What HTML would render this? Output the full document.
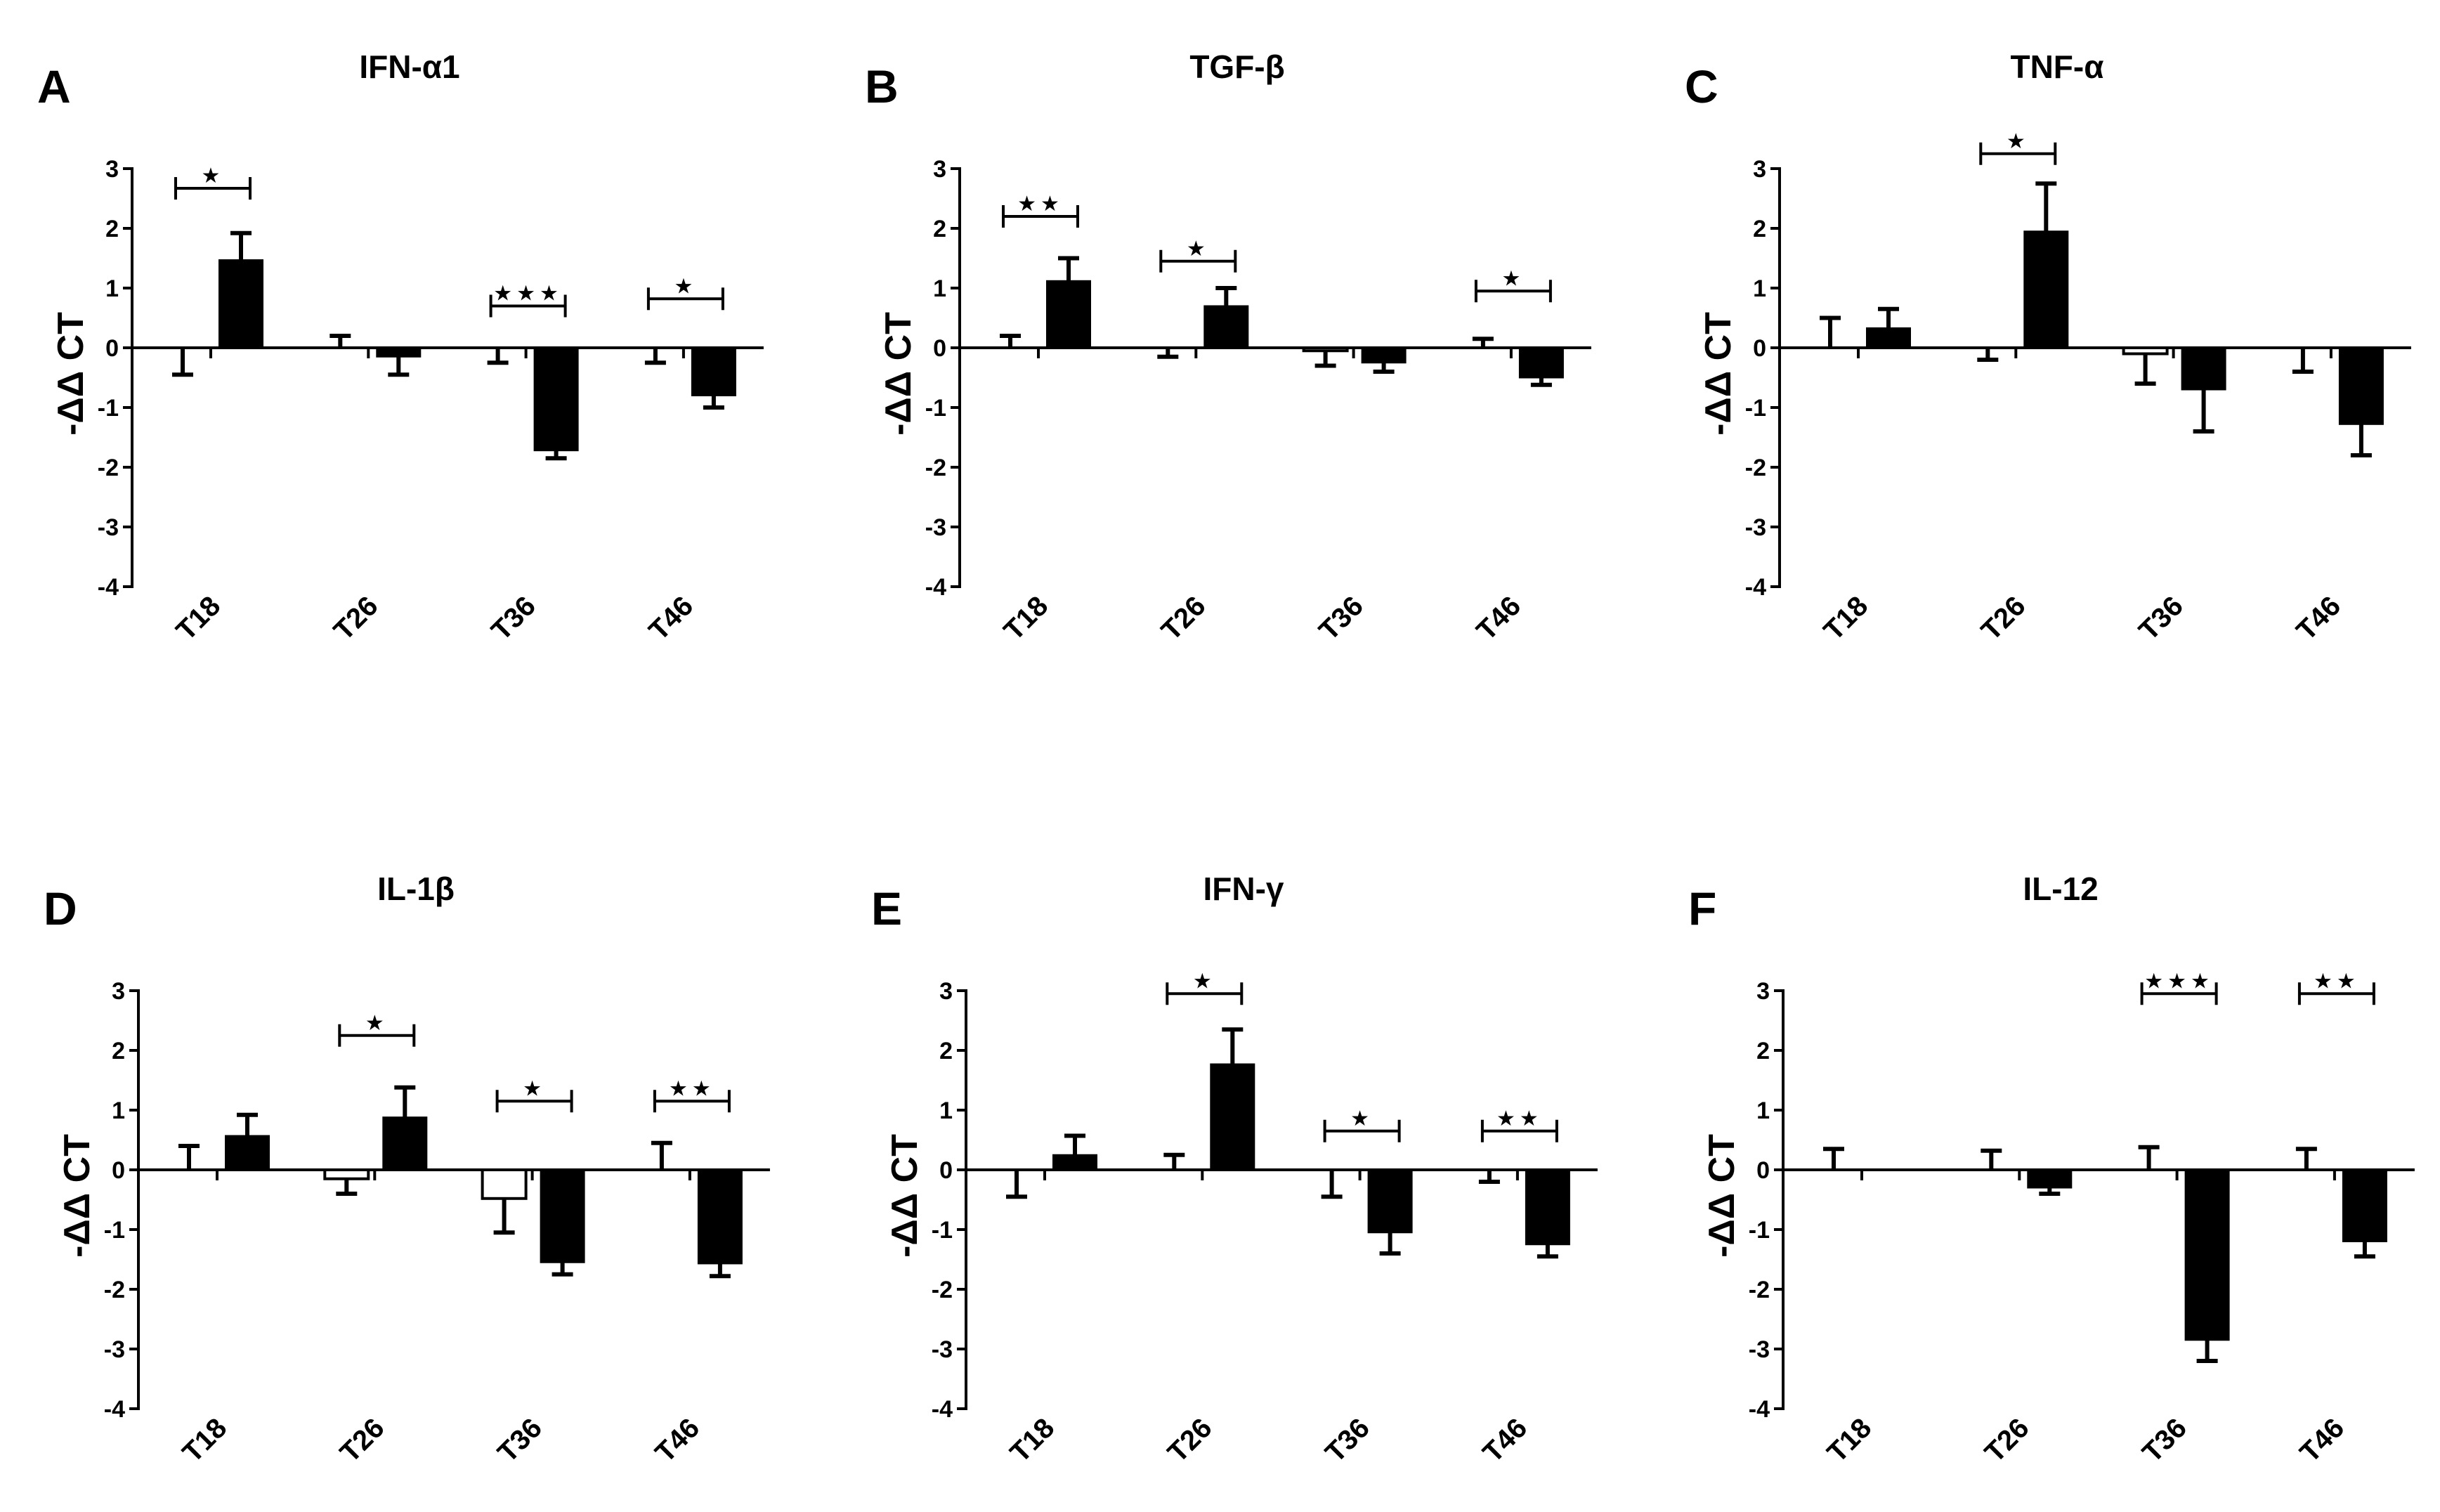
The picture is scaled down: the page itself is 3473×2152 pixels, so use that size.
<!DOCTYPE html>
<html><head><meta charset="utf-8"><style>
html,body{margin:0;padding:0;background:#fff;}
svg{display:block;font-family:"Liberation Sans",sans-serif;}
</style></head><body>
<svg id="fig" width="3473" height="2152" viewBox="0 0 3473 2152" xmlns="http://www.w3.org/2000/svg"></svg>
<script>
const categories = ["T18","T26","T36","T46"];
const panelTitles = ["IFN-\u03b11","TGF-\u03b2","TNF-\u03b1","IL-1\u03b2","IFN-\u03b3","IL-12"];
const panelLetters = ["A","B","C","D","E","F"];
const yTicks = [3,2,1,0,-1,-2,-3,-4];
// white (control) means and error tips
const whiteA = [0,0,0,0];        const whiteTipA = [-0.45,0.2,-0.25,-0.25];
const blackA = [1.47,-0.15,-1.72,-0.8]; const blackTipA = [1.92,-0.45,-1.85,-1.0];
const whiteB = [0,0,-0.05,0];    const whiteTipB = [0.2,-0.15,-0.3,0.15];
const blackB = [1.12,0.7,-0.25,-0.5]; const blackTipB = [1.5,1.0,-0.4,-0.62];
const whiteC = [0,0,-0.1,0];     const whiteTipC = [0.5,-0.2,-0.6,-0.4];
const blackC = [0.33,1.95,-0.7,-1.28]; const blackTipC = [0.65,2.75,-1.4,-1.8];
const whiteD = [0,-0.15,-0.48,0]; const whiteTipD = [0.4,-0.4,-1.05,0.45];
const blackD = [0.57,0.88,-1.55,-1.57]; const blackTipD = [0.92,1.38,-1.75,-1.78];
const whiteE = [0,0,0,0];        const whiteTipE = [-0.45,0.25,-0.45,-0.2];
const blackE = [0.25,1.77,-1.05,-1.25]; const blackTipE = [0.57,2.35,-1.4,-1.45];
const whiteF = [0,0,0,0];        const whiteTipF = [0.35,0.32,0.38,0.35];
const blackF = [0,-0.3,-2.85,-1.2]; const blackTipF = [0,-0.4,-3.2,-1.45];
// significance brackets: height (value units) and star count (0 = none)
const sigYA = [2.67,0,0.7,0.82];  const sigStarsA = [1,0,3,1];
const sigYB = [2.2,1.45,0,0.95];  const sigStarsB = [2,1,0,1];
const sigYC = [0,3.25,0,0];       const sigStarsC = [0,1,0,0];
const sigYD = [0,2.25,1.15,1.15]; const sigStarsD = [0,1,1,2];
const sigYE = [0,2.95,0.65,0.65]; const sigStarsE = [0,1,1,2];
const sigYF = [0,0,2.95,2.95];    const sigStarsF = [0,0,3,2];

const whites=[whiteA,whiteB,whiteC,whiteD,whiteE,whiteF];
const whiteTips=[whiteTipA,whiteTipB,whiteTipC,whiteTipD,whiteTipE,whiteTipF];
const blacks=[blackA,blackB,blackC,blackD,blackE,blackF];
const blackTips=[blackTipA,blackTipB,blackTipC,blackTipD,blackTipE,blackTipF];
const sigYs=[sigYA,sigYB,sigYC,sigYD,sigYE,sigYF];
const sigStars=[sigStarsA,sigStarsB,sigStarsC,sigStarsD,sigStarsE,sigStarsF];

const NS="http://www.w3.org/2000/svg";
const svg=document.getElementById('fig');
function mk(tag,attrs,parent){const e=document.createElementNS(NS,tag);for(const k in attrs)e.setAttribute(k,attrs[k]);(parent||svg).appendChild(e);return e;}

const axisXs=[188,1366,2533,197,1375,2538];
const zeroYs=[495,495,495,1665,1665,1665];
const UNIT=85, SPACING=224.3, BW=62;

for(let p=0;p<6;p++){
  const g=mk('g',{});
  
  
  const ax=axisXs[p], y0=zeroYs[p];
  const yS=v=>y0-v*UNIT;
  const xC=i=>ax+112+i*SPACING;
  const axEnd=xC(3)+114;
  let t=mk('text',{x:ax-135,y:y0-349,'font-size':66,'font-weight':'bold'},g);t.textContent=panelLetters[p];
  
  t=mk('text',{x:ax+395,y:y0-384,'font-size':46,'font-weight':'bold','text-anchor':'middle'},g);t.textContent=panelTitles[p];
  
  t=mk('text',{x:0,y:0,'font-size':52,'font-weight':'bold','text-anchor':'middle',transform:`translate(${ax-70},${y0+37}) rotate(-90)`},g);t.textContent='-\u0394\u0394 CT';
  
  let l=mk('line',{x1:ax,y1:yS(3)-2,x2:ax,y2:yS(-4)+2,stroke:'#000','stroke-width':4},g);
  
  yTicks.forEach(v=>{
    mk('line',{x1:ax-13,y1:yS(v),x2:ax,y2:yS(v),stroke:'#000','stroke-width':4},g);
    const tt=mk('text',{x:ax-19,y:yS(v)+12,'font-size':34,'font-weight':'bold','text-anchor':'end'},g);tt.textContent=v;
    
  });
  l=mk('line',{x1:ax,y1:y0,x2:axEnd,y2:y0,stroke:'#000','stroke-width':4},g);
  
  categories.forEach((c,i)=>{
    const cx=xC(i);
    mk('line',{x1:cx,y1:y0,x2:cx,y2:y0+15,stroke:'#000','stroke-width':4},g);
    const tt=mk('text',{x:0,y:0,'font-size':40,'font-weight':'bold','text-anchor':'end',transform:`translate(${cx+16},${yS(-4)+30}) rotate(-45)`},g);tt.textContent=c;
    
    const series=[[whites[p][i],whiteTips[p][i],cx-40,'#fff','control'],[blacks[p][i],blackTips[p][i],cx+43,'#000','treated']];
    series.forEach(([m,tip,bx,fill,nm])=>{
      const yt=Math.min(yS(m),y0), h=Math.abs(yS(m)-y0);
      if(tip!==m){
        const st=mk('line',{x1:bx,y1:yS(m),x2:bx,y2:yS(tip),stroke:'#000','stroke-width':6},g);
        
        mk('line',{x1:bx-15,y1:yS(tip),x2:bx+15,y2:yS(tip),stroke:'#000','stroke-width':6},g);
      }
      if(h>0.5){
        const r=mk('rect',{x:bx-BW/2,y:yt,width:BW,height:h,fill:fill,stroke:'#000','stroke-width':fill==='#fff'?4:2},g);
        
        
      }
    });
    const n=sigStars[p][i];
    if(n>0){
      const sy=yS(sigYs[p][i]);
      const bg=mk('g',{stroke:'#000','stroke-width':4},g);
      
      
      mk('line',{x1:cx-50,y1:sy,x2:cx+56,y2:sy},bg);
      mk('line',{x1:cx-50,y1:sy-16,x2:cx-50,y2:sy+16},bg);
      mk('line',{x1:cx+56,y1:sy-16,x2:cx+56,y2:sy+16},bg);
      const st=mk('text',{x:cx+3,y:sy-8,'font-size':30,'text-anchor':'middle','font-family':'DejaVu Sans, sans-serif','letter-spacing':6},g);
      st.textContent='\u2605'.repeat(n);
      
    }
  });
}
</script>
</body></html>
